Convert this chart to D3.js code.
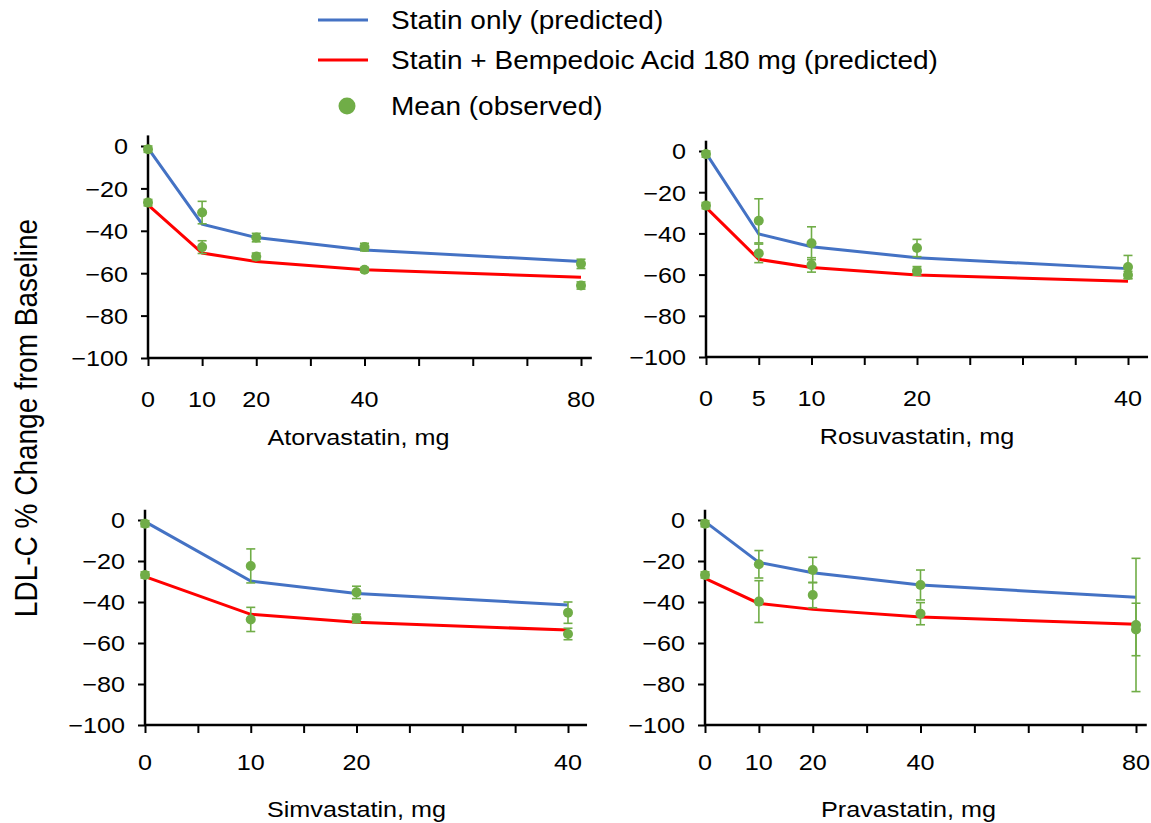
<!DOCTYPE html>
<html>
<head>
<meta charset="utf-8">
<script src="https://cdn.jsdelivr.net/npm/d3@7"></script>
<style>
  body { margin: 0; background: #fff; }
  text { font-family: "Liberation Sans", Arial, sans-serif; fill: #000; }
</style>
</head>
<body>
<svg width="1151" height="823"></svg>
<script>
// ---- data ----
var atorvaDose = [0, 10, 20, 40, 80];
var atorvaStatinPred = [-1, -36.9, -43.2, -49, -54.5];
var atorvaComboPred = [-27.8, -50.5, -54.5, -58.4, -61.9];
var atorvaStatinObs = [-1.5, -31.4, -43.2, -47.7, -55.6];
var atorvaStatinErr = [1.5, 5.3, 2, 1.8, 2.2];
var atorvaComboObs = [-26.7, -47.7, -52.1, -58.4, -65.8];
var atorvaComboErr = [1.5, 3, 1.6, 1, 1.7];

var rosuvaDose = [0, 5, 10, 20, 40];
var rosuvaStatinPred = [-1, -40.3, -46.5, -51.8, -57.1];
var rosuvaComboPred = [-27.4, -52.6, -56.6, -60.2, -63.2];
var rosuvaStatinObs = [-1.5, -33.9, -44.8, -47.1, -56.3];
var rosuvaStatinErr = [1.5, 10.7, 8, 4.2, 5.6];
var rosuvaComboObs = [-26.5, -49.7, -55.3, -58.2, -60.2];
var rosuvaComboErr = [1.5, 4.5, 3.5, 2.1, 1.8];

var simvaDose = [0, 10, 20, 40];
var simvaStatinPred = [-0.8, -29.8, -35.8, -41.5];
var simvaComboPred = [-27.6, -46, -49.9, -53.7];
var simvaStatinObs = [-1.8, -22.4, -35.3, -45.2];
var simvaStatinErr = [1.5, 8.3, 3, 5.2];
var simvaComboObs = [-26.8, -48.5, -48, -55.6];
var simvaComboErr = [1.5, 5.9, 2.1, 2.8];

var pravaDose = [0, 10, 20, 40, 80];
var pravaStatinPred = [-0.8, -20.7, -25.7, -31.7, -37.7];
var pravaComboPred = [-28.5, -40.7, -43.6, -47.3, -50.9];
var pravaStatinObs = [-1.8, -21.6, -24.4, -31.7, -51.2];
var pravaStatinErr = [1.5, 6.7, 6.2, 7.3, 32.5];
var pravaComboObs = [-26.8, -39.8, -36.6, -45.7, -53.4];
var pravaComboErr = [1.5, 10.2, 6.2, 5.4, 12.8];

var yTicks = [0, -20, -40, -60, -80, -100];
var legendLabels = ["Statin only (predicted)", "Statin + Bempedoic Acid 180 mg (predicted)", "Mean (observed)"];
var yTitle = "LDL-C % Change from Baseline";

// ---- styles ----
var BLUE = "#4472C4", RED = "#FF0000", GREEN = "#70AD47";
var SX = 1.12; // the original text is a bit wider than tall

var svg = d3.select("svg");

var panels = [
  {title: "Atorvastatin, mg", dose: atorvaDose, sp: atorvaStatinPred, cp: atorvaComboPred,
   so: atorvaStatinObs, se: atorvaStatinErr, co: atorvaComboObs, ce: atorvaComboErr,
   max: 80, step: 10, end: 82, left: 148, right: 581, top: 146, bottom: 358, tickGap: 49, titleGap: 87, titleDx: -6},
  {title: "Rosuvastatin, mg", dose: rosuvaDose, sp: rosuvaStatinPred, cp: rosuvaComboPred,
   so: rosuvaStatinObs, se: rosuvaStatinErr, co: rosuvaComboObs, ce: rosuvaComboErr,
   max: 40, step: 5, end: 41.9, left: 706, right: 1128, top: 151, bottom: 357, tickGap: 49, titleGap: 87, titleDx: 0},
  {title: "Simvastatin, mg", dose: simvaDose, sp: simvaStatinPred, cp: simvaComboPred,
   so: simvaStatinObs, se: simvaStatinErr, co: simvaComboObs, ce: simvaComboErr,
   max: 40, step: 5, end: 41.8, left: 145, right: 568, top: 520, bottom: 725, tickGap: 45, titleGap: 92, titleDx: 0},
  {title: "Pravastatin, mg", dose: pravaDose, sp: pravaStatinPred, cp: pravaComboPred,
   so: pravaStatinObs, se: pravaStatinErr, co: pravaComboObs, ce: pravaComboErr,
   max: 80, step: 10, end: 82, left: 705, right: 1136, top: 520, bottom: 725, tickGap: 45, titleGap: 92, titleDx: -12}
];

panels.forEach(drawPanel);

function drawPanel(p) {
  var x = d3.scaleLinear().domain([0, p.max]).range([p.left, p.right]);
  var y = d3.scaleLinear().domain([-100, 0]).range([p.bottom, p.top]);
  var g = svg.append("g");

  // x axis ticks (unlabelled) + line
  var xa = g.append("g")
      .attr("transform", `translate(0,${p.bottom})`)
      .call(d3.axisBottom(x).tickValues(d3.range(0, p.max + 0.1, p.step)).tickSize(8).tickFormat(""));
  xa.select(".domain").remove();
  xa.selectAll("line").attr("stroke", "#000").attr("stroke-width", 2);
  g.append("line")
      .attr("x1", x(0)).attr("x2", x(p.end))
      .attr("y1", p.bottom).attr("y2", p.bottom)
      .attr("stroke", "#000").attr("stroke-width", 2.5);

  // x labels only at the doses
  g.append("g").selectAll("text")
    .data(p.dose)
    .join("text")
      .attr("transform", d => `translate(${x(d)},${p.bottom + p.tickGap}) scale(${SX},1)`)
      .attr("text-anchor", "middle")
      .attr("font-size", 22.5)
      .text(d => d);

  // y axis
  var ya = g.append("g")
      .attr("transform", `translate(${p.left},0)`)
      .call(d3.axisLeft(y).tickValues(yTicks).tickSize(7).tickFormat(d3.format("d")));
  ya.select(".domain").remove();
  ya.selectAll("line").attr("stroke", "#000").attr("stroke-width", 2);
  ya.selectAll("text")
      .attr("x", -20 / SX)
      .attr("dy", "0.35em")
      .attr("transform", `scale(${SX},1)`)
      .attr("font-size", 22.5)
      .attr("font-family", "'Liberation Sans', Arial, sans-serif")
      .attr("fill", "#000");
  g.append("line")
      .attr("x1", p.left).attr("x2", p.left)
      .attr("y1", y(-100)).attr("y2", y(5))
      .attr("stroke", "#000").attr("stroke-width", 2.5);

  // title
  g.append("text")
      .attr("transform", `translate(${(x(0) + x(p.max)) / 2 + p.titleDx},${p.bottom + p.titleGap}) scale(${SX},1)`)
      .attr("text-anchor", "middle")
      .attr("font-size", 22.5)
      .text(p.title);

  // predicted lines
  var line = d3.line()
      .x(d => x(d[0]))
      .y(d => y(d[1]));
  g.append("path")
      .datum(d3.zip(p.dose, p.sp))
      .attr("fill", "none").attr("stroke", BLUE).attr("stroke-width", 3)
      .attr("d", line);
  g.append("path")
      .datum(d3.zip(p.dose, p.cp))
      .attr("fill", "none").attr("stroke", RED).attr("stroke-width", 3)
      .attr("d", line);

  // observed means with error bars
  var obs = d3.zip(p.dose, p.so, p.se).concat(d3.zip(p.dose, p.co, p.ce));
  var og = g.append("g")
    .selectAll("g")
    .data(obs)
    .join("g")
      .attr("stroke", GREEN)
      .attr("stroke-width", 1.6);
  og.append("line")
      .attr("x1", d => x(d[0])).attr("x2", d => x(d[0]))
      .attr("y1", d => y(d[1] - d[2])).attr("y2", d => y(d[1] + d[2]));
  og.append("line")
      .attr("x1", d => x(d[0]) - 4.5).attr("x2", d => x(d[0]) + 4.5)
      .attr("y1", d => y(d[1] - d[2])).attr("y2", d => y(d[1] - d[2]));
  og.append("line")
      .attr("x1", d => x(d[0]) - 4.5).attr("x2", d => x(d[0]) + 4.5)
      .attr("y1", d => y(d[1] + d[2])).attr("y2", d => y(d[1] + d[2]));
  og.append("circle")
      .attr("cx", d => x(d[0]))
      .attr("cy", d => y(d[1]))
      .attr("r", 5)
      .attr("fill", GREEN)
      .attr("stroke", "none");
}

// y title
svg.append("text")
    .attr("transform", `translate(37,418) scale(${SX},1) rotate(-90)`)
    .attr("text-anchor", "middle")
    .attr("font-size", 28)
    .text(yTitle);

// legend
var lg = svg.append("g");
var legendRows = [20, 60, 106];
lg.append("line").attr("x1", 318).attr("x2", 368).attr("y1", legendRows[0]).attr("y2", legendRows[0])
    .attr("stroke", BLUE).attr("stroke-width", 3);
lg.append("line").attr("x1", 318).attr("x2", 368).attr("y1", legendRows[1]).attr("y2", legendRows[1])
    .attr("stroke", RED).attr("stroke-width", 3);
lg.append("circle").attr("cx", 347).attr("cy", legendRows[2]).attr("r", 8.5).attr("fill", GREEN);
lg.selectAll("text")
  .data(legendLabels)
  .join("text")
    .attr("transform", (d, i) => `translate(391,${legendRows[i] + 9}) scale(${SX},1)`)
    .attr("font-size", 25)
    .text(d => d);
</script>
</body>
</html>
